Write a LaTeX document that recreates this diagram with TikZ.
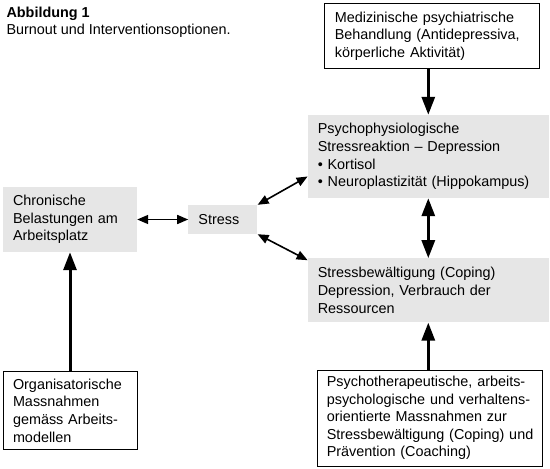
\documentclass[tikz,border=0pt]{standalone}
\usepackage{fontspec}
\setmainfont{Liberation Sans}
\definecolor{lightgrey}{RGB}{230,230,230}
\usetikzlibrary{arrows.meta,positioning}

\begin{document}
\begin{tikzpicture}[x=1pt,y=1pt,node distance=50pt,
	font=\fontsize{14.4}{17.6}\selectfont]
	\tikzstyle{box}=[inner xsep=10pt,inner ysep=0pt,align=left]
	\tikzstyle{grey}=[box,fill=lightgrey]
	\tikzstyle{framed}=[box,draw=black,line width=0.8pt,fill=white]
	\tikzstyle{big}=[draw,line width=3pt,-{Triangle[length=18pt,width=13pt]}]
	\tikzstyle{bothbig}=[draw,line width=3pt,{Triangle[length=18pt,width=13pt]}-{Triangle[length=18pt,width=13pt]}]
	\tikzstyle{both}=[draw,line width=1.6pt,{Triangle[length=11pt,width=9pt]}-{Triangle[length=11pt,width=9pt]}]

	\useasboundingbox (0,0) rectangle (550,-469);

	\node[anchor=base west] (title) at (3,-17) {\textbf{Abbildung 1}};
	\node[anchor=base west] (sub) at (3,-34.5) {Burnout und Interventionsoptionen.};

	\node[grey,text width=114pt,minimum height=65pt] (chr) at (70,-219.5) {Chronische\\Belastungen am\\Arbeitsplatz};
	\node[grey,text width=49pt,minimum height=29pt] (stress) [right=51pt of chr] {Stress};
	\node[grey,text width=221pt,minimum height=83pt] (psy) [right=50pt of stress, yshift=63pt] {Psychophysiologische\\Stressreaktion -- Depression\\\textbullet{} Kortisol\\\textbullet{} Neuroplastizität (Hippokampus)};
	\node[framed,text width=195pt,minimum height=65pt] (med) [above=46pt of psy, xshift=4pt] {Medizinische psychiatrische\\Behandlung (Antidepressiva,\\körperliche Aktivität)};
	\node[grey,text width=221pt,minimum height=64pt] (cop) [below=60pt of psy] {Stressbewältigung (Coping)\\Depression, Verbrauch der\\Ressourcen};
	\node[framed,inner xsep=9pt,text width=207pt,minimum height=96pt] (psyt) [below=47pt of cop, xshift=2pt] {Psychotherapeutische, arbeits-\\psychologische und verhaltens-\\orientierte Massnahmen zur\\Stressbewältigung (Coping) und\\Prävention (Coaching)};
	\node[framed,text width=114pt,minimum height=78pt] (org) [below=119pt of chr] {Organisatorische\\Massnahmen\\gemäss Arbeits-\\modellen};

	\path
	(psy.north |- med.south) edge[big] (psy.north)
	(cop.south |- psyt.north) edge[big] (cop.south)
	(org) edge[big] (chr)
	(psy) edge[bothbig] (cop)
	(chr) edge[both] (stress)
	(stress.north east) edge[both] ([yshift=-20pt]psy.west)
	(stress.south east) edge[both] ([yshift=-2pt]cop.north west)
	;
\end{tikzpicture}
\end{document}
